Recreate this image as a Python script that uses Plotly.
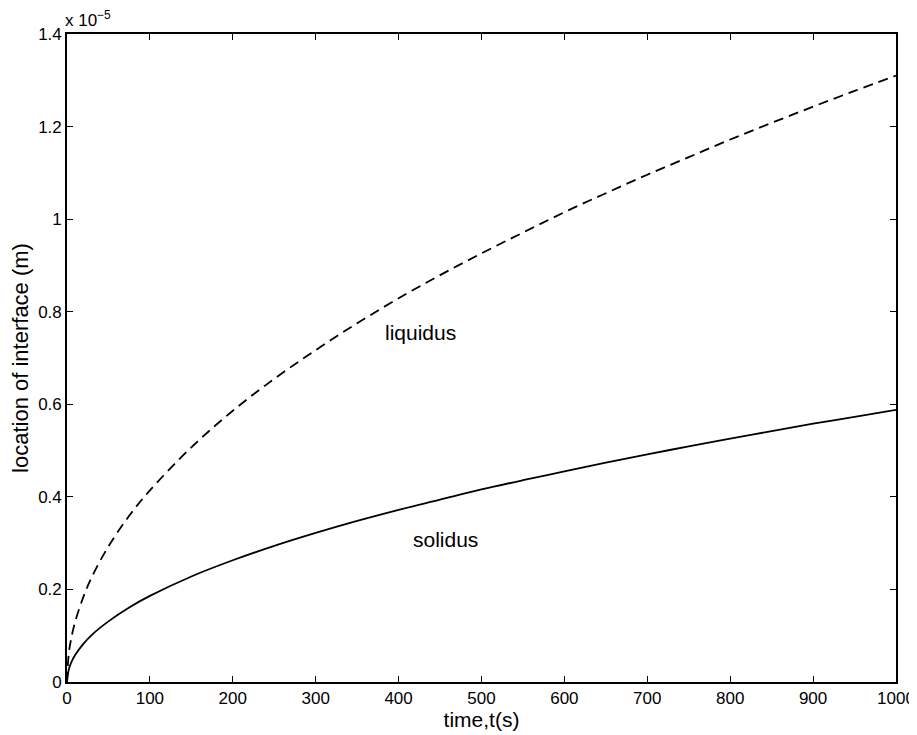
import plotly.graph_objects as go

# time (s)
time_s = [0, 2, 5, 10, 20, 30, 50, 75, 100, 150, 200, 250, 300, 350, 400, 450,
          500, 550, 600, 650, 700, 750, 800, 850, 900, 950, 1000]
# location of interface (units of 1e-5 m)
liquidus = [0, 0.059, 0.093, 0.131, 0.185, 0.227, 0.293, 0.359, 0.414, 0.507, 0.586,
            0.655, 0.717, 0.775, 0.829, 0.879, 0.926, 0.971, 1.015, 1.056, 1.096,
            1.134, 1.172, 1.208, 1.243, 1.277, 1.31]
solidus = [0, 0.026, 0.042, 0.059, 0.083, 0.102, 0.131, 0.161, 0.186, 0.228, 0.263,
           0.294, 0.322, 0.348, 0.372, 0.394, 0.416, 0.436, 0.455, 0.474, 0.492,
           0.509, 0.526, 0.542, 0.558, 0.573, 0.588]

x_ticks = [0, 100, 200, 300, 400, 500, 600, 700, 800, 900, 1000]
y_ticks = [0, 0.2, 0.4, 0.6, 0.8, 1.0, 1.2, 1.4]
y_tick_text = ["0", "0.2", "0.4", "0.6", "0.8", "1", "1.2", "1.4"]

font_family = "Liberation Sans, Arial, Helvetica, sans-serif"

fig = go.Figure()
fig.add_trace(go.Scatter(x=time_s, y=liquidus, mode="lines", line_shape="spline",
                         line=dict(color="black", width=1.8, dash="10px,6px"),
                         showlegend=False))
fig.add_trace(go.Scatter(x=time_s, y=solidus, mode="lines", line_shape="spline",
                         line=dict(color="black", width=1.8),
                         showlegend=False))

fig.add_annotation(x=426, y=0.756, text="liquidus", showarrow=False,
                   font=dict(size=21, color="black", family=font_family))
fig.add_annotation(x=457, y=0.307, text="solidus", showarrow=False,
                   font=dict(size=21, color="black", family=font_family))
fig.add_annotation(x=0, y=1, xref="paper", yref="paper", xanchor="left", yanchor="bottom",
                   text="x 10<sup>−5</sup>", showarrow=False, xshift=-4, yshift=2,
                   font=dict(size=17, color="black", family=font_family))

axis_common = dict(showline=True, linecolor="black", linewidth=1.6, mirror="ticks",
                   ticks="inside", ticklen=6, tickwidth=1.3, tickcolor="black",
                   showgrid=False, zeroline=False, automargin=False,
                   tickfont=dict(size=17, color="black", family=font_family))

fig.update_xaxes(range=[0, 1000], tickvals=x_ticks,
                 title=dict(text="time,t(s)", font=dict(size=21, color="black", family=font_family),
                            standoff=2),
                 **axis_common)
fig.update_yaxes(range=[0, 1.4], tickvals=y_ticks, ticktext=y_tick_text,
                 title=dict(text="location of interface (m)",
                            font=dict(size=22, color="black", family=font_family), standoff=3),
                 **axis_common)

# the page body adds an 8px offset, so the figure is sized and margined to compensate
fig.update_layout(width=909, height=727, plot_bgcolor="white", paper_bgcolor="white",
                  margin=dict(l=59, r=21, t=26, b=53),
                  font=dict(family=font_family, color="black"))

fig.write_html("out.html")
